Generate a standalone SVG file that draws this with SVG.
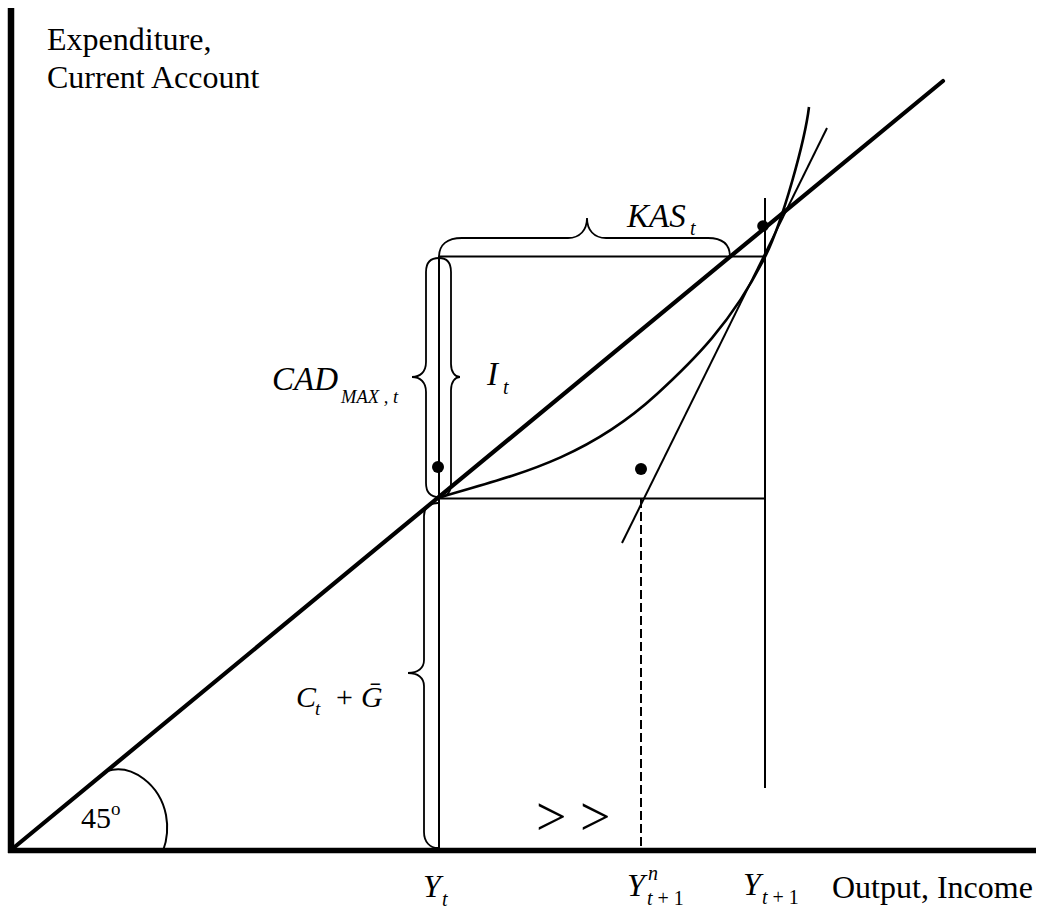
<svg xmlns="http://www.w3.org/2000/svg" width="1044" height="914" viewBox="0 0 1044 914">
<style>
.t{font-family:"Liberation Serif","Times New Roman",serif;fill:#000}
.i{font-style:italic}
.thin{fill:none;stroke:#000;stroke-width:2}
.br{fill:none;stroke:#000;stroke-width:1.8}
</style>
<rect width="1044" height="914" fill="#fff"/>
<g id="axes">
<line x1="11" y1="8" x2="11" y2="853" stroke="#000" stroke-width="6.5"/>
<line x1="8" y1="850.5" x2="1036" y2="850.5" stroke="#000" stroke-width="5.5"/>
</g>
<g id="connectors">
<line id="line45" x1="11" y1="850" x2="943" y2="81" stroke="#000" stroke-width="4.2" stroke-linecap="round"/>
<line class="thin" x1="439" y1="256.5" x2="765" y2="256.5"/>
<line class="thin" x1="438" y1="498.5" x2="765" y2="498.5"/>
<line class="thin" x1="439" y1="256" x2="439" y2="850"/>
<line class="thin" x1="765" y1="198" x2="765" y2="788"/>
<line class="thin" x1="641" y1="499" x2="641" y2="850" stroke-dasharray="9 4"/>
<line class="thin" x1="622" y1="543" x2="827" y2="128"/>
<path id="curve" fill="none" stroke="#000" stroke-width="2.6" d="M438,498 C511,476 584,461 657,394 C693,361 732,323 765,257 C783,221 805,140 809,107"/>
<path id="arc45" class="thin" d="M107,771 C132,763 160,785 166,815 C169,831 166,843 163,851"/>
</g>
<g id="braces">
<path id="brace-kas" class="br" d="M439,257 C439,245 447,238 462,238 L568,238 C580,238 587,230 587,218 C587,230 594,238 606,238 L708,238 C723,238 730,245 730,257"/>
<path id="brace-cad" class="br" d="M439,258 C430,258 426,263 426,272 L426,362 C426,372 420,377 412,377 C420,377 426,382 426,392 L426,483 C426,492 430,497 439,497"/>
<path id="brace-i" class="br" d="M439,258 C447,258 451,263 451,272 L451,364 C451,372 455,377 460,377 C455,377 451,382 451,390 L451,483 C451,492 447,497 439,497"/>
<path id="brace-cg" class="br" d="M438,503 C429,503 424,507 424,516 L424,660 C424,668 418,673 408,673 C418,673 424,678 424,686 L424,832 C424,842 430,848 438,848"/>
</g>
<g id="dots">
<circle cx="763" cy="226" r="5.8"/>
<circle cx="438" cy="467" r="6"/>
<circle cx="641" cy="469" r="6"/>
</g>
<g id="labels">
<text class="t" x="47" y="50" font-size="32">Expenditure,</text>
<text class="t" x="47" y="88" font-size="32">Current Account</text>
<text class="t" x="832" y="898" font-size="32">Output, Income</text>
<text class="t" x="81" y="828" font-size="30">45</text>
<text class="t" x="111" y="815" font-size="19">o</text>
<text class="t i" x="627" y="227" font-size="33">KAS</text>
<text class="t i" x="690" y="235" font-size="20">t</text>
<text class="t i" x="272" y="390" font-size="33">CAD</text>
<text class="t i" x="341" y="403" font-size="18.5">MAX , t</text>
<text class="t i" x="487" y="385" font-size="33">I</text>
<text class="t i" x="503" y="394" font-size="20">t</text>
<text class="t i" x="296" y="707" font-size="30">C</text>
<text class="t i" x="315" y="715" font-size="19">t</text>
<text class="t" x="336" y="707" font-size="30">+</text>
<text class="t i" x="361" y="707" font-size="30">G&#x304;</text>
<text class="t" x="536" y="835" font-size="54">&gt; &gt;</text>
<text class="t i" x="423" y="897" font-size="32">Y</text>
<text class="t i" x="442" y="906" font-size="20">t</text>
<text class="t i" x="627" y="896" font-size="32">Y</text>
<text class="t i" x="648" y="880" font-size="20">n</text>
<text class="t" x="647" y="905" font-size="20"><tspan font-style="italic">t</tspan> + 1</text>
<text class="t i" x="743" y="895" font-size="32">Y</text>
<text class="t" x="762" y="904" font-size="20"><tspan font-style="italic">t</tspan> + 1</text>
</g>
</svg>
